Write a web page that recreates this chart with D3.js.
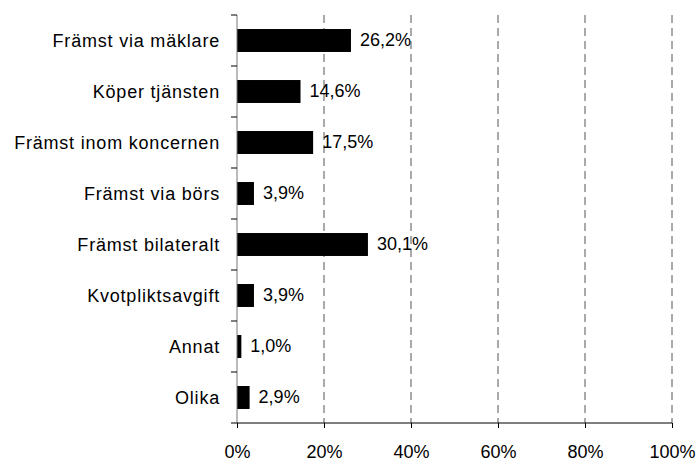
<!DOCTYPE html>
<html>
<head>
<meta charset="utf-8">
<script src="https://cdn.jsdelivr.net/npm/d3@7"></script>
<style>
  body { margin: 0; background: #fff; }
  text { font-family: "Liberation Sans", Arial, sans-serif; fill: #000; }
</style>
</head>
<body>
<svg id="chart"></svg>
<script>
"use strict";

const categories = ["Främst via mäklare", "Köper tjänsten", "Främst inom koncernen",
  "Främst via börs", "Främst bilateralt", "Kvotpliktsavgift", "Annat", "Olika"];
const values = [26.2, 14.6, 17.5, 3.9, 30.1, 3.9, 1.0, 2.9];
const ticks = [0, 20, 40, 60, 80, 100];

const width = 698, height = 461;
const plotLeft = 237, plotRight = 672, plotTop = 15, plotBottom = 423;

const chart = d3.select('#chart')
  .attr('width', width)
  .attr('height', height);

const x = d3.scaleLinear().domain([0, 100]).range([plotLeft, plotRight]);
const y = d3.scaleBand().domain(categories).range([plotTop, plotBottom]).paddingInner(0.55).paddingOuter(0.275);
const fmt = v => d3.format('.1f')(v).replace('.', ',') + '%';

// dashed gridlines
chart.selectAll('.grid').data(ticks.slice(1))
  .enter().append('line')
  .attr('class', 'grid')
  .attr('x1', d => x(d)).attr('x2', d => x(d))
  .attr('y1', plotTop).attr('y2', plotBottom)
  .attr('stroke', '#555')
  .attr('stroke-width', 1)
  .attr('stroke-dasharray', '8,5');

// bars
chart.selectAll('.bar').data(values)
  .enter().append('rect')
  .attr('class', 'bar')
  .attr('x', x(0))
  .attr('y', (d, i) => y(categories[i]))
  .attr('width', d => x(d) - x(0))
  .attr('height', y.bandwidth())
  .attr('fill', '#000');

// value labels
chart.selectAll('.val').data(values)
  .enter().append('text')
  .attr('class', 'val')
  .attr('x', d => x(d) + 9)
  .attr('y', (d, i) => y(categories[i]) + y.bandwidth() / 2 - 1)
  .attr('dy', '0.36em')
  .style('font-size', '18px')
  .text(fmt);

// y axis
chart.append('line')
  .attr('x1', plotLeft).attr('x2', plotLeft)
  .attr('y1', plotTop).attr('y2', plotBottom)
  .attr('stroke', '#777');
const step = (plotBottom - plotTop) / categories.length;
chart.selectAll('.ytick').data(d3.range(categories.length))
  .enter().append('line')
  .attr('class', 'ytick')
  .attr('x1', plotLeft - 6).attr('x2', plotLeft)
  .attr('y1', d => plotTop + d * step).attr('y2', d => plotTop + d * step)
  .attr('stroke', '#000');

chart.selectAll('.cat').data(categories)
  .enter().append('text')
  .attr('class', 'cat')
  .attr('x', plotLeft - 17)
  .attr('y', d => y(d) + y.bandwidth() / 2)
  .attr('dy', '0.36em')
  .attr('text-anchor', 'end')
  .style('font-size', '18px')
  .style('letter-spacing', '0.8px')
  .text(d => d);

// x axis
const xAxis = chart.append('g')
  .attr('transform', `translate(0,${plotBottom})`)
  .call(d3.axisBottom(x).tickValues(ticks).tickSize(5).tickPadding(17).tickFormat(d => d + '%'));
xAxis.select('.domain').attr('d', `M${plotLeft - 6},0H${plotRight}`).attr('stroke', '#000');
xAxis.selectAll('text').style('font-size', '18px').style('font-family', '"Liberation Sans", Arial, sans-serif');
</script>
</body>
</html>
